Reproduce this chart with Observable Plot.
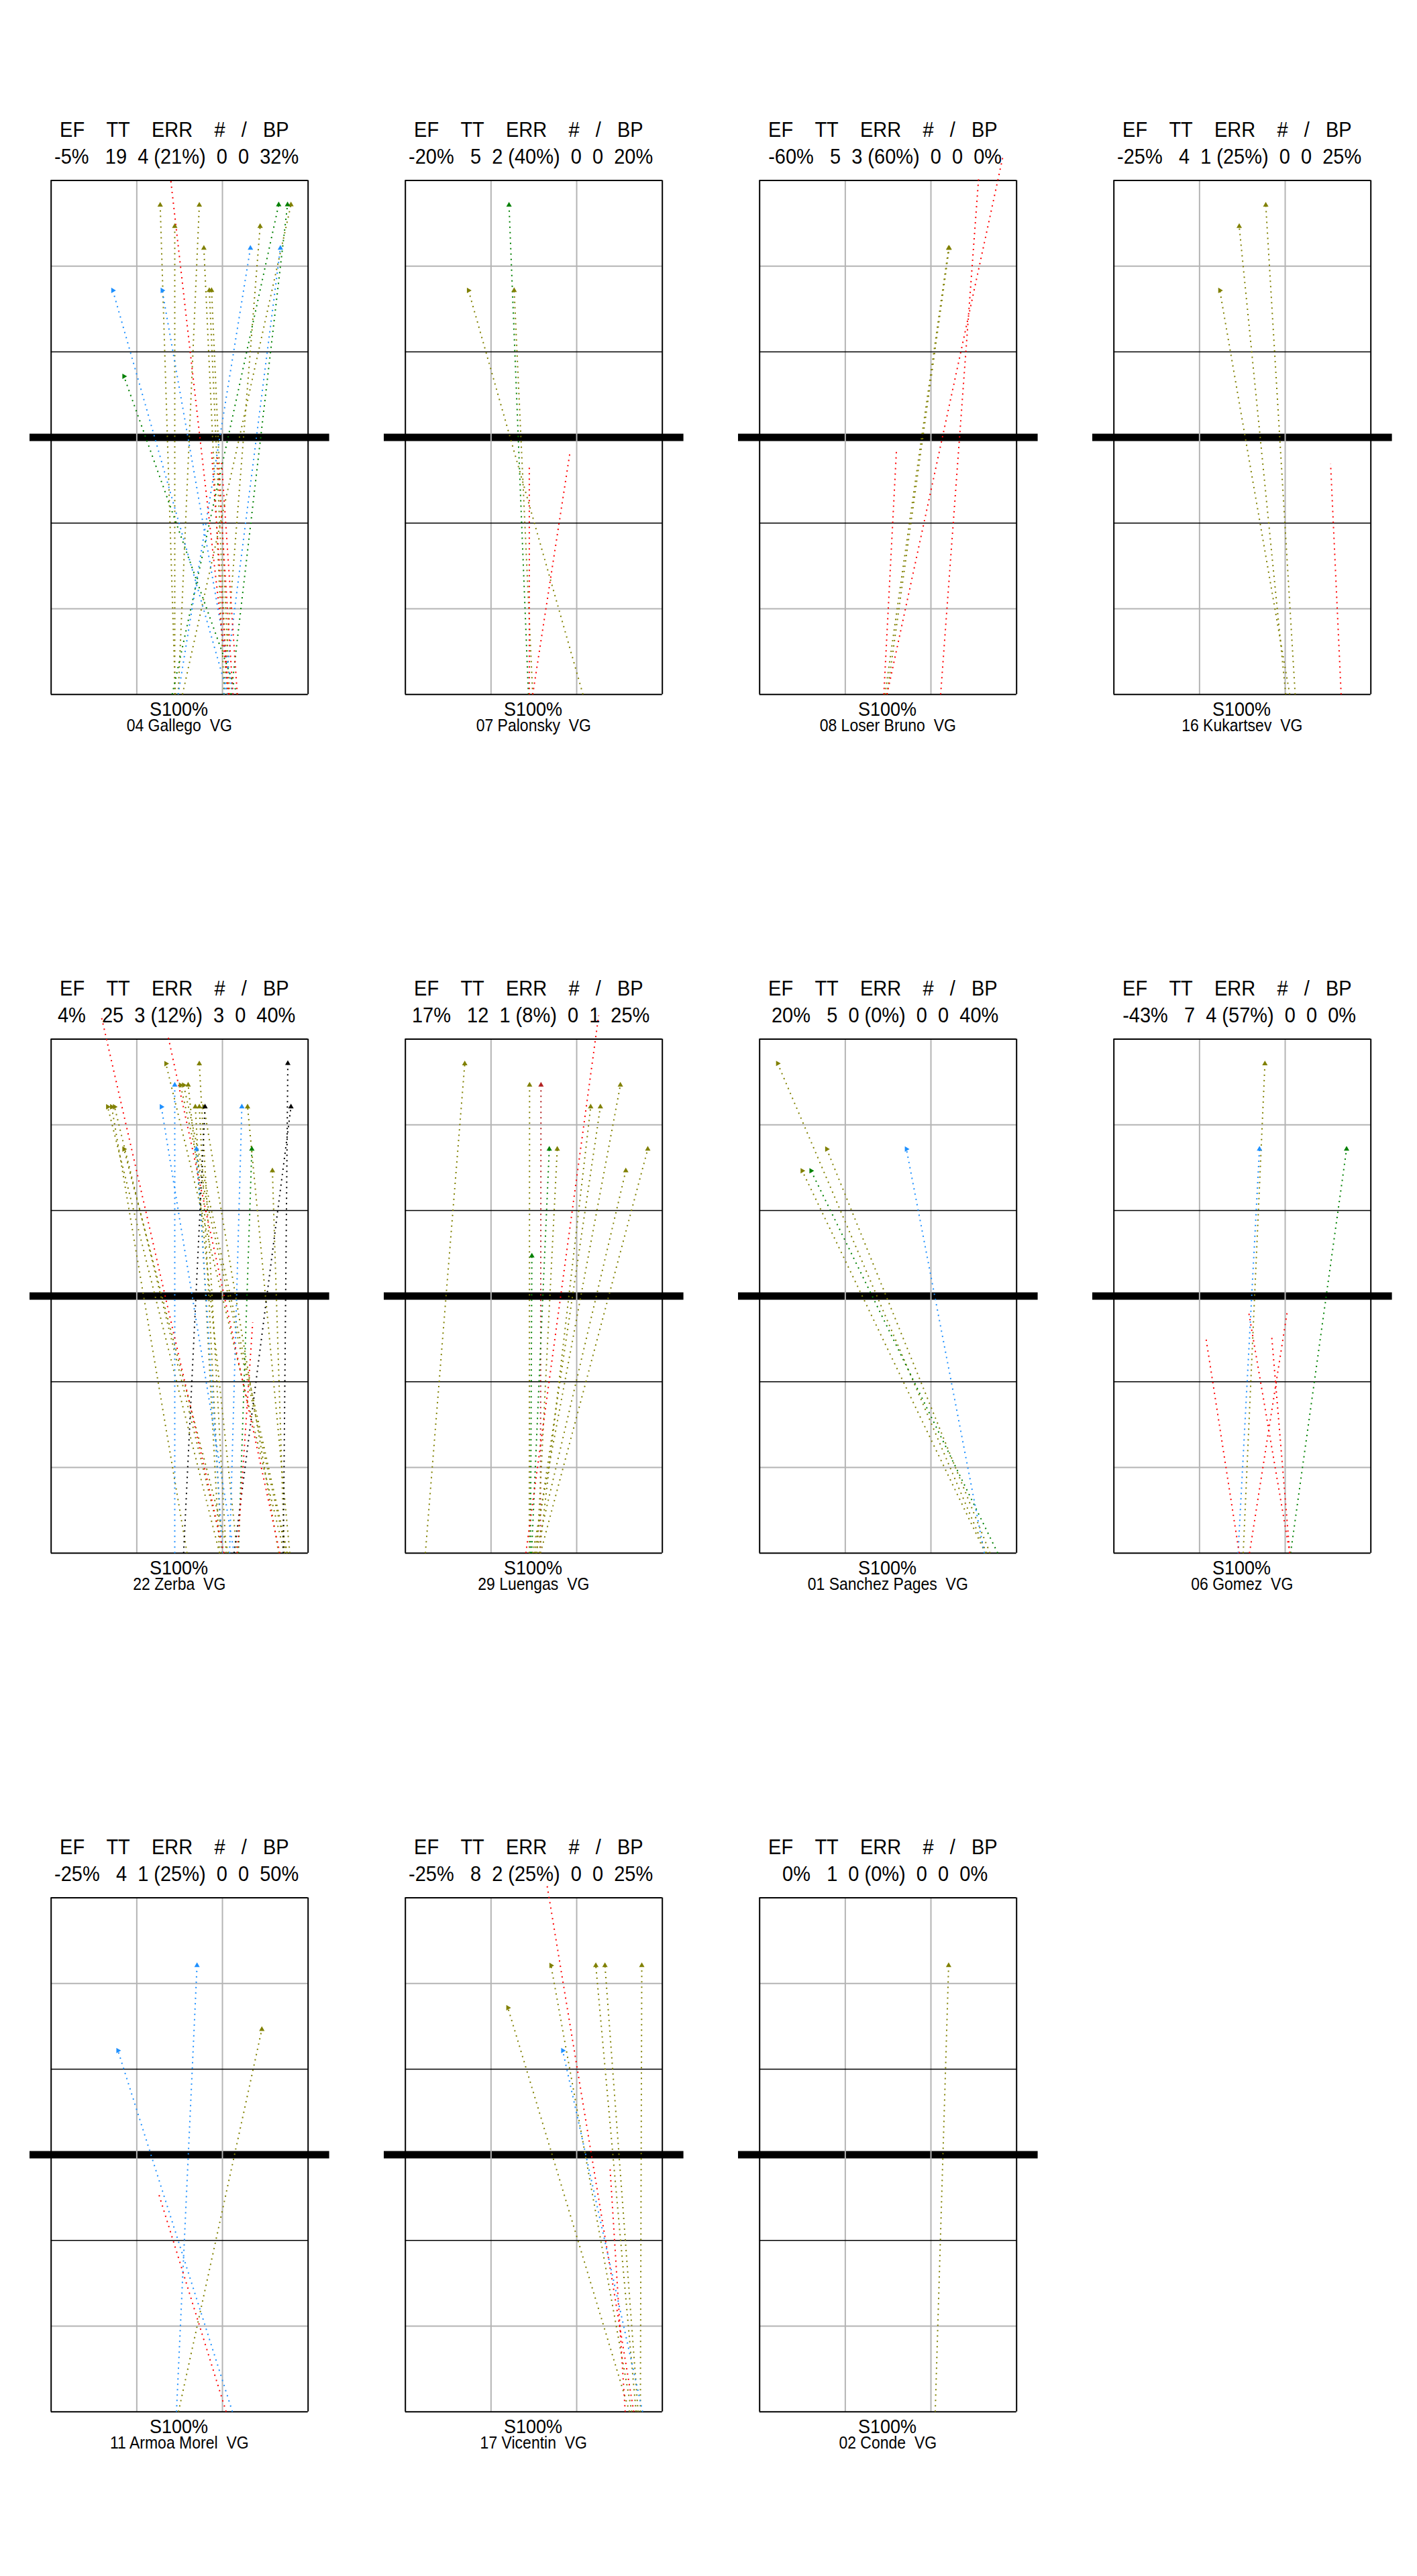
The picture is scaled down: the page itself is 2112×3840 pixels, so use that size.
<!DOCTYPE html>
<html><head><meta charset="utf-8">
<script src="https://cdn.jsdelivr.net/npm/d3@7"></script>
<script src="https://cdn.jsdelivr.net/npm/@observablehq/plot@0.6"></script>
<style>
html,body{margin:0;padding:0;background:#fff;}
#page{position:relative;width:2112px;height:3840px;background:#fff;overflow:hidden;}
#page svg{position:absolute;}
</style></head><body><div id="page"></div>
<script>
// ---- player stats ----
const names   = ["04 Gallego  VG","07 Palonsky  VG","08 Loser Bruno  VG","16 Kukartsev  VG",
                 "22 Zerba  VG","29 Luengas  VG","01 Sanchez Pages  VG","06 Gomez  VG",
                 "11 Armoa Morel  VG","17 Vicentin  VG","02 Conde  VG"];
const ef      = ["-5%","-20%","-60%","-25%","4%","17%","20%","-43%","-25%","-25%","0%"];
const tt      = [19,5,5,4,25,12,5,7,4,8,1];
const errN    = [4,2,3,1,3,1,0,4,1,2,0];
const errPct  = ["21%","40%","60%","25%","12%","8%","0%","57%","25%","25%","0%"];
const aces    = [0,0,0,0,3,0,0,0,0,0,0];
const slash   = [0,0,0,0,0,1,0,0,0,0,0];
const bp      = ["32%","20%","0%","25%","40%","25%","40%","0%","50%","25%","0%"];
const serveLabel = "S100%";
const headerLabels = ["EF","TT","ERR","#","/","BP"];

// ---- serves: [x start, y start, x end, y end, evaluation]  (metres, court 9 x 18) ----
const gallego = [
  [4.35,0,3.82,17.14,"-"],[4.33,0,4.33,16.39,"-"],[4.45,0,5.19,17.14,"-"],[6.07,0,5.35,15.63,"-"],
  [6.17,0,5.54,14.15,"-"],[6.25,0,5.62,14.15,"-"],[6.03,0,7.32,16.39,"-"],[4.60,0,8.40,17.15,"-"],
  [4.24,0,7.97,17.15,"+"],[6.30,0,8.28,17.15,"+"],[6.52,0,2.55,11.14,"+"],
  [6.19,0,2.16,14.15,"!"],[6.37,0,3.89,14.15,"!"],[4.45,0,6.98,15.63,"!"],[6.05,0,8.03,15.63,"!"],
  [6.23,0,4.18,18.10,"="],[6.21,0,5.62,8.50,"="],[6.37,0,5.82,8.44,"="],[6.52,0,5.97,8.15,"="]
];
const palonsky = [
  [4.31,0,3.63,17.14,"+"],[4.46,0,3.81,14.15,"-"],[6.22,0,2.21,14.15,"-"],
  [4.34,0,4.34,8.08,"="],[4.46,0,5.77,8.51,"="]
];
const loserBruno = [
  [4.39,0,6.62,15.63,"-"],[4.46,0,6.64,15.63,"-"],
  [4.35,0,4.79,8.51,"="],[6.34,0,7.67,18.08,"="],[4.46,0,8.52,18.83,"="]
];
const kukartsev = [
  [6.16,0,3.71,14.15,"-"],[6.02,0,4.39,16.39,"-"],[6.35,0,5.32,17.14,"-"],
  [7.96,0,7.59,8.08,"="]
];
const zerba = [
  [5.90,0,1.98,15.63,"-"],[4.76,0,2.12,15.63,"-"],[6.05,0,2.22,15.63,"-"],[6.21,0,2.55,14.15,"-"],
  [8.17,0,4.02,17.14,"-"],[8.25,0,4.53,16.39,"-"],[8.28,0,4.64,16.39,"-"],[6.52,0,4.80,16.39,"-"],
  [6.13,0,5.19,17.14,"-"],[5.90,0,5.05,15.63,"-"],[5.97,0,5.19,15.63,"-"],[7.97,0,5.35,15.63,"-"],
  [8.36,0,6.88,15.63,"-"],[8.17,0,7.75,13.39,"-"],
  [6.41,0,3.86,15.63,"!"],[4.33,0,4.33,16.39,"!"],[6.01,0,5.09,14.15,"!"],[6.25,0,6.68,15.63,"!"],
  [6.56,0,7.03,14.15,"+"],
  [4.64,0,5.39,15.63,"#"],[8.13,0,8.29,17.15,"#"],[6.41,0,8.40,15.63,"#"],
  [6.05,0,1.75,18.83,"="],[8.01,0,4.10,18.08,"="],[6.52,0,7.06,8.08,"="]
];
const luengas = [
  [0.70,0,2.08,17.14,"-"],[4.34,0,4.35,16.39,"-"],[4.73,0,4.75,16.39,"/"],[4.42,0,5.04,14.15,"+"],
  [4.61,0,5.32,14.15,"-"],[4.38,0,4.43,10.41,"+"],[4.69,0,6.49,15.63,"-"],[4.53,0,6.83,15.63,"-"],
  [4.46,0,7.53,16.39,"-"],[4.57,0,7.72,13.39,"-"],[4.73,0,8.49,14.15,"-"],[4.22,0,6.77,18.83,"="]
];
const sanchezPages = [
  [7.95,0,0.63,17.15,"-"],[8.07,0,2.35,14.15,"-"],[7.91,0,1.49,13.39,"-"],
  [8.34,0,1.80,13.39,"+"],[7.87,0,5.14,14.15,"!"]
];
const gomez = [
  [4.53,0,5.29,17.14,"-"],[4.35,0,5.10,14.15,"!"],[6.19,0,8.15,14.15,"+"],
  [4.39,0,3.22,7.56,"="],[6.16,0,4.71,8.51,"="],[4.75,0,6.08,8.51,"="],[6.16,0,5.53,7.56,"="]
];
const armoaMorel = [
  [6.35,0,2.34,12.65,"!"],[4.39,0,5.11,15.63,"!"],[4.46,0,7.38,13.39,"-"],[6.13,0,3.78,7.59,"="]
];
const vicentin = [
  [7.85,0,3.59,14.15,"-"],[7.93,0,5.10,15.63,"-"],[8.08,0,6.67,15.63,"-"],[8.15,0,6.99,15.63,"-"],
  [8.23,0,8.28,15.63,"-"],[8.31,0,5.51,12.65,"!"],[8.00,0,4.95,18.51,"="],[7.70,0,7.17,8.51,"="]
];
const conde = [
  [6.15,0,6.62,15.63,"-"]
];
const serves = [gallego,palonsky,loserBruno,kukartsev,zerba,luengas,sanchezPages,gomez,armoaMorel,vicentin,conde];

// ---- court lines (metres) ----
const courtX = [0, 9];
const courtY = [0, 18];
const grayX = [3, 6];
const grayY = [3, 15];
const attackY = [6, 12];
const netY = [9];

const evalColor = {"-":"#808000","+":"#008000","!":"#1e90ff","=":"#ff0000","#":"#000000","/":"#b22222"};

const NB = n => "\u00a0".repeat(n);
const headerText = headerLabels[0]+NB(4)+headerLabels[1]+NB(4)+headerLabels[2]+NB(4)+headerLabels[3]+NB(3)+headerLabels[4]+NB(3)+headerLabels[5];

const page = document.getElementById("page");
const PW = 528, PH = 1280;
const font = "'Liberation Sans', Arial, Helvetica, sans-serif";

serves.forEach((data, i) => {
  const col = i % 4, row = Math.floor(i / 4);
  const valuesText = ef[i]+NB(3)+tt[i]+NB(2)+errN[i]+NB(1)+"("+errPct[i]+")"+NB(2)+aces[i]+NB(2)+slash[i]+NB(2)+bp[i];
  const arrows = data.filter(d => d[4] !== "=");
  const svg = Plot.plot({
    width: PW, height: PH,
    margin: 0,
    x: {domain: [0, 9], range: [75.7, 458.7], axis: null},
    y: {domain: [0, 18], range: [1034.7, 268.5], axis: null},
    color: {type: "identity"},
    style: {fontFamily: font, background: "transparent", overflow: "visible"},
    marks: [
      Plot.ruleY(netY, {x1: -0.745, x2: 9.75, stroke: "black", strokeWidth: 11}),
      Plot.ruleX(grayX, {y1: 0, y2: 18, stroke: "#b4b4b4", strokeWidth: 2}),
      Plot.ruleY(grayY, {x1: 0, x2: 9, stroke: "#b4b4b4", strokeWidth: 2}),
      Plot.ruleY(attackY, {x1: 0, x2: 9, stroke: "black", strokeWidth: 1.5}),
      Plot.ruleX(courtX, {y1: 0, y2: 18, stroke: "black", strokeWidth: 2}),
      Plot.ruleY(courtY, {x1: 0, x2: 9, stroke: "black", strokeWidth: 2}),
      Plot.link(data, {x1: d => d[0], y1: d => d[1], x2: d => d[2], y2: d => d[3],
        stroke: d => evalColor[d[4]], strokeWidth: 2, strokeDasharray: "2,6"}),
      Plot.dot(arrows, {x: d => d[2], y: d => d[3], symbol: "triangle", r: 3,
        fill: d => evalColor[d[4]], stroke: "none",
        rotate: d => ((d[2]-d[0])/(d[3]-d[1]) < -0.15 ? 90 : 0)}),
      Plot.text([headerText], {x: 4.316, y: 19.52, text: d => d, fontSize: 31, textAnchor: "middle", lineAnchor: "bottom", fill: "black", className: "sq93"}),
      Plot.text([valuesText], {x: 4.393, y: 18.58, text: d => d, fontSize: 31, textAnchor: "middle", lineAnchor: "bottom", fill: "black", className: "sq93"}),
      Plot.text([serveLabel], {x: 4.47, y: -0.747, text: d => d, fontSize: 30, textAnchor: "middle", lineAnchor: "bottom", fill: "black", className: "sq90"}),
      Plot.text([names[i]], {x: 4.49, y: -1.283, text: d => d, fontSize: 25, textAnchor: "middle", lineAnchor: "bottom", fill: "black", className: "sq92"})
    ]
  });
  svg.style.left = (col * PW) + "px";
  svg.style.top = (row * PH) + "px";
  page.appendChild(svg);
  // narrow the glyphs horizontally to match the reference lettering
  [["sq93", 0.935], ["sq90", 0.9], ["sq92", 0.92]].forEach(([cls, f]) => {
    svg.querySelectorAll("g." + cls + " text").forEach(t => {
      const len = t.getComputedTextLength();
      if (len > 0) {
        t.setAttribute("textLength", (len * f).toFixed(1));
        t.setAttribute("lengthAdjust", "spacingAndGlyphs");
      }
    });
  });
});
</script>
</body></html>
